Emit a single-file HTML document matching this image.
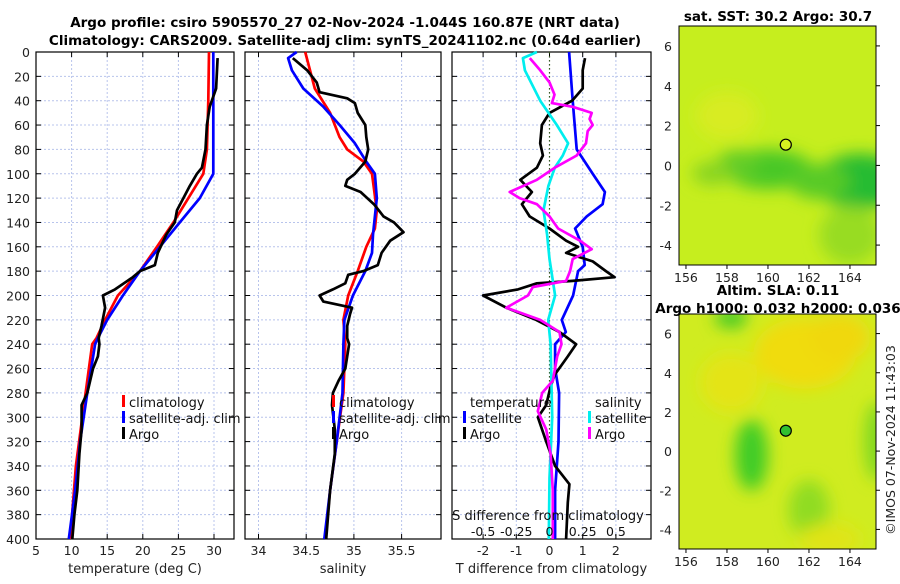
<!DOCTYPE html>
<html><head><meta charset="utf-8"><style>
body{margin:0;background:#fff;width:900px;height:580px;overflow:hidden;font-family:"DejaVu Sans","Liberation Sans",sans-serif}
svg text{font-family:"DejaVu Sans","Liberation Sans",sans-serif}
</style></head><body>
<svg id="c" width="900" height="580" xmlns="http://www.w3.org/2000/svg">
<defs>
<filter id="bl" x="-50%" y="-50%" width="200%" height="200%"><feGaussianBlur stdDeviation="8"/></filter>
<clipPath id="m1"><rect x="679" y="26" width="197" height="239"/></clipPath>
<clipPath id="m2"><rect x="679" y="314" width="197" height="235"/></clipPath>
</defs>
<g id="maps"></g>
<g id="plots"></g>
<text x="345" y="27" text-anchor="middle" font-size="13.5" font-weight="bold">Argo profile: csiro 5905570_27 02-Nov-2024 -1.044S 160.87E (NRT data)</text>
<text x="345" y="45" text-anchor="middle" font-size="13.5" font-weight="bold">Climatology: CARS2009. Satellite-adj clim: synTS_20241102.nc (0.64d earlier)</text>
</svg>
<script>
const NS="http://www.w3.org/2000/svg";
// ---- data ----
const tempClimDepth=[0,40,80,100,120,140,160,180,200,220,235,240,300,340,400];
const tempClim=[29.3,29.2,29.0,28.5,26.4,24.3,22.0,19.6,16.5,14.7,13.5,12.9,11.5,10.6,9.8];
const tempSatDepth=[0,100,120,140,160,180,200,220,235,240,280,320,360,400];
const tempSat=[29.9,29.9,28.0,25.2,22.4,19.6,17.2,15.0,13.7,13.3,12.2,11.2,10.5,9.6];
const tempArgoDepth=[5,30,45,60,80,95,100,110,120,130,140,150,165,175,180,185,195,200,210,225,235,240,250,260,280,290,310,330,360,380,400];
const tempArgo=[30.5,30.3,29.4,29.0,28.8,28.3,27.6,26.6,25.7,24.8,24.5,23.3,22.1,21.7,19.6,18.6,16.1,14.4,14.7,14.2,13.8,13.9,13.7,13.0,12.2,11.4,11.4,11.1,10.8,10.4,10.1];
const salClimDepth=[0,30,50,70,80,90,100,130,145,160,180,200,220,240,280,320,360,400];
const salClim=[34.49,34.59,34.75,34.85,34.93,35.10,35.19,35.24,35.22,35.13,35.04,34.94,34.89,34.91,34.89,34.82,34.75,34.70];
const salSatDepth=[0,5,15,30,45,60,75,90,100,120,150,165,180,200,220,240,280,320,360,400];
const salSat=[34.40,34.31,34.35,34.47,34.68,34.85,35.01,35.13,35.22,35.24,35.20,35.19,35.12,34.99,34.90,34.89,34.88,34.82,34.75,34.69];
const salArgoDepth=[5,15,25,33,38,42,50,60,70,80,90,100,105,110,115,125,135,140,148,155,165,175,180,183,190,195,200,205,210,215,225,235,240,250,260,270,280,290,310,330,360,400];
const salArgo=[34.36,34.51,34.61,34.64,34.93,35.01,35.04,35.12,35.13,35.15,35.12,35.01,34.93,34.91,35.07,35.21,35.31,35.42,35.52,35.38,35.29,35.25,35.10,34.94,34.91,34.78,34.64,34.68,34.98,34.96,34.93,34.93,34.95,34.93,34.91,34.84,34.78,34.77,34.80,34.80,34.75,34.71];
const dTSatDepth=[0,40,80,100,115,125,135,145,160,175,180,200,220,230,240,260,280,320,360,400];
const dTSat=[0.59,0.70,0.82,1.30,1.67,1.60,1.12,0.77,1.00,1.06,0.86,0.71,0.37,0.49,0.17,0.17,0.29,0.27,0.17,0.17];
const dTArgoDepth=[5,15,30,40,50,60,75,85,95,105,115,125,135,145,155,160,165,172,180,185,188,190,195,200,210,220,230,240,250,265,275,290,300,320,340,355,370,400];
const dTArgo=[1.07,1.0,1.0,0.68,0,-0.23,-0.28,-0.2,-0.38,-0.88,-0.53,-0.83,-0.6,0,0.5,0.86,0.5,1.3,1.7,1.96,0.7,-0.38,-0.95,-2.0,-1.3,-0.4,0.3,0.8,0.55,0.16,0.03,-0.1,-0.35,-0.1,0.17,0.6,0.55,0.5];
const dSSatDepth=[0,5,15,40,60,75,85,95,110,130,150,170,200,220,240,300,350,400];
const dSSat=[-0.095,-0.2,-0.185,-0.07,0.055,0.14,0.10,0.04,-0.008,-0.045,-0.018,0,0.042,-0.01,0.008,0.02,0,-0.005];
const dSArgoDepth=[5,15,25,35,42,45,50,55,60,65,75,85,95,105,115,120,125,135,145,155,162,170,180,188,193,200,210,220,230,240,250,270,280,295,310,330,360,400];
const dSArgo=[-0.148,-0.07,0,0.038,0.018,0.175,0.318,0.302,0.325,0.288,0.275,0.205,0.04,-0.095,-0.3,-0.225,-0.095,0,0.065,0.23,0.318,0.175,0.155,0.125,-0.125,-0.163,-0.325,-0.07,0.075,0.09,0.058,0.025,-0.055,-0.088,-0.025,0.008,0.025,0.025];
const depthTicks=[0,20,40,60,80,100,120,140,160,180,200,220,240,260,280,300,320,340,360,380,400];
const tempTicks=[5,10,15,20,25,30];
const salTicks=[34,34.5,35,35.5];
const dTTicks=[-2,-1,0,1,2];
const dSTicks=[-0.5,-0.25,0,0.25,0.5];
const lonTicks=[156,158,160,162,164];
const latTicks=[6,4,2,0,-2,-4];
// ---- helpers ----
const Y0=52,Y1=539;
const yD=d=>Y0+d/400*(Y1-Y0);
const xT=t=>36+(t-5)*7.12;
const xS=s=>258.5+(s-34)*95.4;
const xDT=t=>549.5+t*33.2;
const xDS=s=>549.5+s*4*33.2;
const plots=document.getElementById('plots'), maps=document.getElementById('maps');
function el(tag,attrs,parent,txt){const e=document.createElementNS(NS,tag);for(const k in attrs)e.setAttribute(k,attrs[k]);if(txt!==undefined)e.textContent=txt;parent.appendChild(e);return e;}
function line(depths,vals,fx,color,name,w){
  const pts=depths.map((d,i)=>fx(vals[i]).toFixed(1)+','+yD(d).toFixed(1)).join(' ');
  const p=el('polyline',{points:pts,fill:'none',stroke:color,'stroke-width':w||2.7,'stroke-linejoin':'round'},plots);
  
  
}
function panel(x0,x1,xticks,fx,labelY,name){
  const g=el('g',{},plots);
  
  
  depthTicks.forEach(d=>{if(d>0&&d<400)el('line',{x1:x0,x2:x1,y1:yD(d),y2:yD(d),stroke:'#b8c4ec','stroke-width':1,'stroke-dasharray':'2,2'},g);});
  xticks.forEach(t=>{const x=fx(t);el('line',{x1:x,x2:x,y1:Y0,y2:Y1,stroke:'#b8c4ec','stroke-width':1,'stroke-dasharray':'2,2'},g);
    el('line',{x1:x,x2:x,y1:Y1,y2:Y1-5,stroke:'#000'},g);el('line',{x1:x,x2:x,y1:Y0,y2:Y0+5,stroke:'#000'},g);
    el('text',{x:x,y:555,'text-anchor':'middle','font-size':12.5,fill:'#222'},g,String(t));});
  depthTicks.forEach(d=>{el('line',{x1:x0,x2:x0+5,y1:yD(d),y2:yD(d),stroke:'#000'},g);el('line',{x1:x1,x2:x1-5,y1:yD(d),y2:yD(d),stroke:'#000'},g);});
  el('rect',{x:x0,y:Y0,width:x1-x0,height:Y1-Y0,fill:'none',stroke:'#000','stroke-width':1.2},g);
  const t=el('text',{x:(x0+x1)/2,y:573,'text-anchor':'middle','font-size':13,fill:'#222'},g,labelY);
  
  
  return g;
}
depthTicks.forEach(d=>{const t=el('text',{x:30,y:yD(d)+5,'text-anchor':'end','font-size':12.5,fill:'#222'},plots,String(d));
  
  });
const g1=panel(36,234,tempTicks,xT,'temperature (deg C)','temperature-panel');
const g2=panel(245,441,salTicks,xS,'salinity','salinity-panel');
const g3=panel(452,651,dTTicks,xDT,'T difference from climatology','difference-panel');
el('line',{x1:549.5,x2:549.5,y1:Y0,y2:Y1,stroke:'#3a5a1a','stroke-width':1.2,'stroke-dasharray':'1.5,2.5'},plots);
line(tempClimDepth,tempClim,xT,'#f00','temp-climatology-line');
line(tempSatDepth,tempSat,xT,'#00f','temp-satellite-line');
line(tempArgoDepth,tempArgo,xT,'#000','temp-argo-line');
line(salClimDepth,salClim,xS,'#f00','sal-climatology-line');
line(salSatDepth,salSat,xS,'#00f','sal-satellite-line');
line(salArgoDepth,salArgo,xS,'#000','sal-argo-line');
line(dTSatDepth,dTSat,xDT,'#00f','dt-satellite-line');
line(dTArgoDepth,dTArgo,xDT,'#000','dt-argo-line');
line(dSSatDepth,dSSat,xDS,'#0ee','ds-satellite-line');
line(dSArgoDepth,dSArgo,xDS,'#f0f','ds-argo-line');
function leg(x,y,color,label,name){
  const g=el('g',{},plots);
  
  
  el('rect',{x:x,y:y-12,width:3,height:12,fill:color},g);
  el('text',{x:x+7,y:y,'font-size':13,fill:'#111'},g,label);
}
leg(122,407,'#f00','climatology','legend-climatology');
leg(122,423,'#00f','satellite-adj. clim','legend-satellite-adj');
leg(122,439,'#000','Argo','legend-argo');
leg(332,407,'#f00','climatology','legend-sal-climatology');
leg(332,423,'#00f','satellite-adj. clim','legend-sal-satellite-adj');
leg(332,439,'#000','Argo','legend-sal-argo');
el('text',{x:470,y:407,'font-size':13,fill:'#111'},plots,'temperature');
el('text',{x:595,y:407,'font-size':13,fill:'#111'},plots,'salinity');
leg(463,423,'#00f','satellite','legend-t-satellite');
leg(463,439,'#000','Argo','legend-t-argo');
leg(588,423,'#0ee','satellite','legend-s-satellite');
leg(588,439,'#f0f','Argo','legend-s-argo');
el('text',{x:548,y:520,'text-anchor':'middle','font-size':13,fill:'#111'},plots,'S difference from climatology');
dSTicks.forEach(s=>el('text',{x:xDS(s),y:536,'text-anchor':'middle','font-size':12.5,fill:'#111'},plots,String(s)));
const lx=l=>679+(l-155.66)*20.5;
function mapPanel(top,bottom,clip,base,blobs,pointColor,name){
  const g=el('g',{},maps);
  
  
  const ly=la=>top+(7-la)/12*(bottom-top);
  const c=el('g',{'clip-path':'url(#'+clip+')'},g);
  el('rect',{x:679,y:top,width:197,height:bottom-top,fill:base},c);
  const bg=el('g',{filter:'url(#bl)'},c);
  blobs.forEach(b=>el('ellipse',{cx:lx(b[0]),cy:ly(b[1]),rx:b[2]*20.5,ry:b[3]*19.7,fill:b[4]},bg));
  el('rect',{x:679,y:top,width:197,height:bottom-top,fill:'none',stroke:'#000','stroke-width':1},g);
  lonTicks.forEach(l=>{el('line',{x1:lx(l),x2:lx(l),y1:bottom,y2:bottom+4,stroke:'#000'},g);
    el('text',{x:lx(l),y:bottom+17,'text-anchor':'middle','font-size':12.5,fill:'#222'},g,String(l));});
  latTicks.forEach(la=>{el('line',{x1:876,x2:880,y1:ly(la),y2:ly(la),stroke:'#000'},g);
    el('text',{x:672,y:ly(la)+5,'text-anchor':'end','font-size':12.5,fill:'#222'},g,String(la));});
  const p=el('circle',{cx:lx(160.87),cy:ly(1.04),r:5.5,fill:pointColor,stroke:'#000','stroke-width':1.2},g);
  
  
}
mapPanel(26,265,'m1','#c6ee1e',[
  [160,-0.2,2.2,1.0,'#48c828'],[164.5,-0.8,2.2,1.4,'#28bc30'],[162.5,-0.8,1.5,0.9,'#58ca28'],[158.5,0,1.0,0.8,'#60cc28'],
  [157.3,-0.4,1.0,0.6,'#88d424'],[164,-3.5,1.5,1.5,'#98dc20'],[158,2.5,1.5,1.2,'#d8ec20']
],'#d8f020','sst-map');
mapPanel(314,549,'m2','#d0ec20',[
  [161.8,5,2.5,1.8,'#f0dc10'],[163.5,5.8,1.5,1.2,'#f0d810'],[158.2,3.5,1.5,1.5,'#e4e418'],[159.2,-0.2,0.8,1.8,'#40cc28'],
  [158.2,6.8,0.8,0.5,'#40c828'],[162,-3,1.0,1.5,'#90dc20'],[165.3,0.5,0.6,2,'#80d820'],[163,-4.5,1.5,0.8,'#e0e418']
],'#30c030','sla-map');
</script>
<svg style="position:absolute;left:0;top:0" width="900" height="580" xmlns="http://www.w3.org/2000/svg">
<text x="778" y="21" text-anchor="middle" font-size="13.5" font-weight="bold">sat. SST: 30.2 Argo: 30.7</text>
<text x="778" y="295" text-anchor="middle" font-size="13.5" font-weight="bold">Altim. SLA: 0.11</text>
<text x="778" y="313" text-anchor="middle" font-size="13.5" font-weight="bold">Argo h1000: 0.032 h2000: 0.036</text>
<text x="0" y="0" transform="translate(895,440) rotate(-90)" text-anchor="middle" font-size="12.5" fill="#222">©IMOS 07-Nov-2024 11:43:03</text>
</svg>
</body></html>
